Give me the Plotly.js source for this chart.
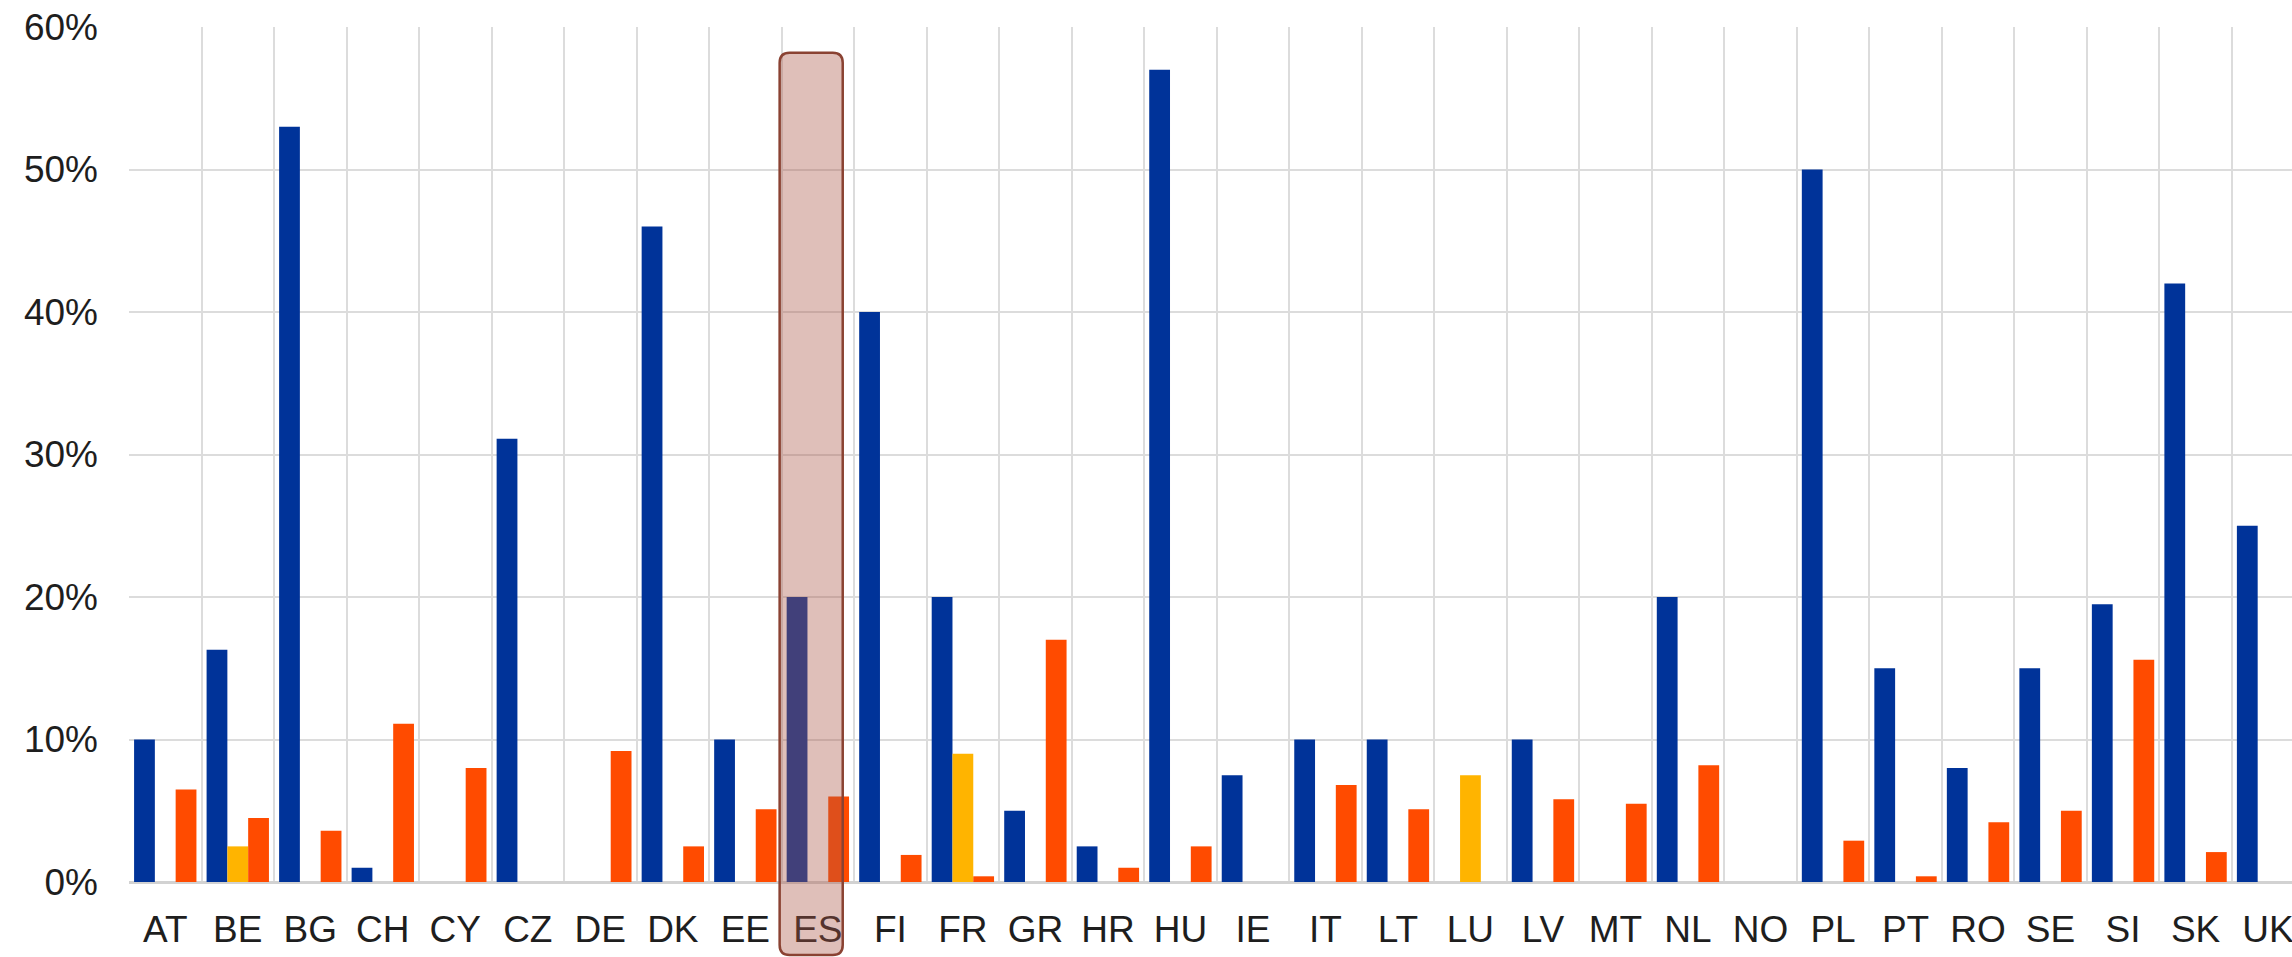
<!DOCTYPE html>
<html>
<head>
<meta charset="utf-8">
<script src="https://cdn.plot.ly/plotly-3.0.1.min.js"></script>
<style>
html, body { margin: 0; padding: 0; background: #ffffff; }
#chart { width: 2292px; height: 957px; }
</style>
</head>
<body>
<div id="chart"></div>
<script>
// ---- data (percent) ----
const categories = ['AT','BE','BG','CH','CY','CZ','DE','DK','EE','ES','FI','FR','GR','HR','HU','IE','IT','LT','LU','LV','MT','NL','NO','PL','PT','RO','SE','SI','SK','UK'];
const seriesBlue   = [10, 16.3, 53, 1, null, 31.1, null, 46, 10, 20, 40, 20, 5, 2.5, 57, 7.5, 10, 10, null, 10, null, 20, null, 50, 15, 8, 15, 19.5, 42, 25];
const seriesYellow = [null, 2.5, null, null, null, null, null, null, null, null, null, 9, null, null, null, null, null, null, 7.5, null, null, null, null, null, null, null, null, null, null, null];
const seriesOrange = [6.5, 4.5, 3.6, 11.1, 8, null, 9.2, 2.5, 5.1, 6.0, 1.9, 0.4, 17, 1, 2.5, null, 6.8, 5.1, null, 5.8, 5.5, 8.2, null, 2.9, 0.4, 4.2, 5, 15.6, 2.1, null];
const yTickValues  = [0, 10, 20, 30, 40, 50, 60];
const highlighted  = 'ES';

// ---- layout geometry ----
const W = 2292, H = 957;
const M = { l: 129, r: 0, t: 27, b: 75 };
const plotW = W - M.l - M.r, plotH = H - M.t - M.b;
const xRange = [-0.5, 29.33];
const yRange = [0, 60];

const fontFamily = 'Liberation Sans, Arial, sans-serif';
const textColor = '#1e1e1e';

const traces = [
  { name: 'Series 1', y: seriesBlue,   color: '#003399' },
  { name: 'Series 2', y: seriesYellow, color: '#FFB400' },
  { name: 'Series 3', y: seriesOrange, color: '#FF4B00' }
].map(s => ({
  type: 'bar',
  name: s.name,
  x: categories,
  y: s.y,
  marker: { color: s.color, line: { width: 0 } },
  hoverinfo: 'x+y'
}));

// highlight box around the selected country (paper coords derived from its category index)
const hi = categories.indexOf(highlighted);
const toPx = v => (v - xRange[0]) / (xRange[1] - xRange[0]);
const x0 = toPx(hi - 0.527), x1 = toPx(hi + 0.343);
const y1 = 58.2 / (yRange[1] - yRange[0]);
const y0 = -73 / plotH;
const rx = 10 / plotW, ry = 10 / plotH;
const path = `M ${x0},${y0 + ry} L ${x0},${y1 - ry} Q ${x0},${y1} ${x0 + rx},${y1} ` +
             `L ${x1 - rx},${y1} Q ${x1},${y1} ${x1},${y1 - ry} ` +
             `L ${x1},${y0 + ry} Q ${x1},${y0} ${x1 - rx},${y0} ` +
             `L ${x0 + rx},${y0} Q ${x0},${y0} ${x0},${y0 + ry} Z`;

const layout = {
  width: W,
  height: H,
  margin: M,
  paper_bgcolor: '#ffffff',
  plot_bgcolor: '#ffffff',
  showlegend: false,
  barmode: 'group',
  bargap: 0.14,
  bargroupgap: 0,
  font: { family: fontFamily, size: 37, color: textColor },
  xaxis: {
    type: 'category',
    range: xRange,
    tickson: 'boundaries',
    showgrid: true,
    gridcolor: '#dcdcdc',
    gridwidth: 2,
    ticks: '',
    tickangle: 0,
    showline: false,
    zeroline: false,
    automargin: false,
    ticklabelstandoff: 22,
    tickfont: { family: fontFamily, size: 37, color: textColor },
    fixedrange: true
  },
  yaxis: {
    range: yRange,
    tickvals: yTickValues,
    ticktext: yTickValues.map(v => v + '%'),
    showgrid: true,
    gridcolor: '#dcdcdc',
    gridwidth: 2,
    zeroline: true,
    zerolinecolor: '#d2d2d2',
    zerolinewidth: 3,
    ticks: '',
    showline: false,
    automargin: false,
    ticklabelstandoff: 30,
    tickfont: { family: fontFamily, size: 37, color: textColor },
    fixedrange: true
  },
  shapes: [{
    type: 'path',
    xref: 'paper',
    yref: 'paper',
    path: path,
    fillcolor: 'rgba(172, 88, 70, 0.38)',
    line: { color: '#8a4232', width: 2.5 },
    layer: 'above'
  }]
};

Plotly.newPlot('chart', traces, layout, { displayModeBar: false, staticPlot: true });
</script>
</body>
</html>
